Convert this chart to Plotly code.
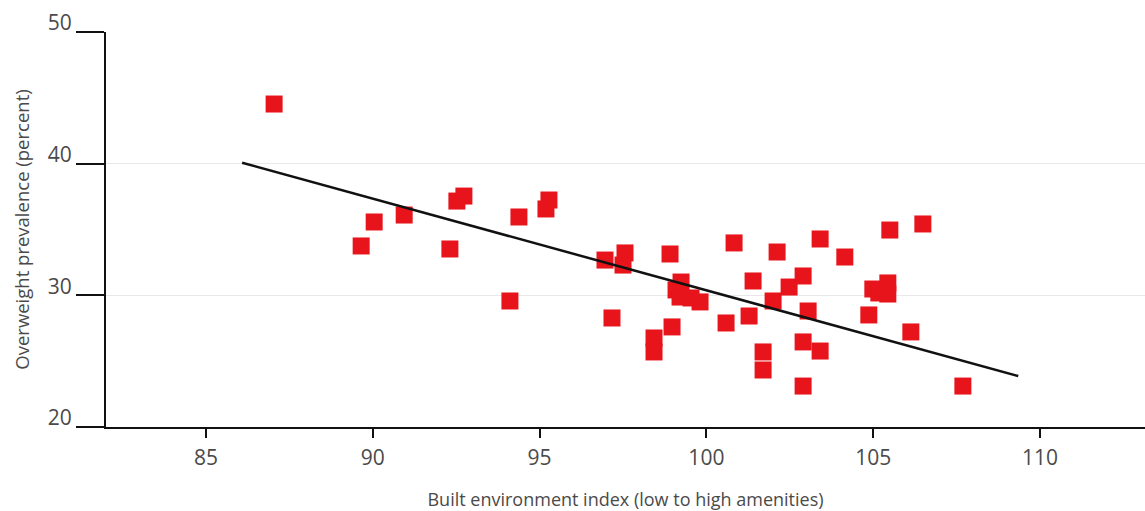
import plotly.graph_objects as go

# Built environment index (x) and overweight prevalence in percent (y)
built_index = [
    87.04, 89.65, 90.04, 90.94, 92.31, 92.52, 92.73, 94.11, 94.38, 95.19,
    95.28, 96.96, 97.56, 97.50, 97.17, 98.91, 99.24, 99.09, 99.21, 99.54,
    99.81, 98.97, 98.43, 98.43, 100.59, 100.83, 101.28, 101.40, 101.70, 101.70,
    102.12, 102.00, 102.48, 102.90, 103.05, 102.90, 103.41, 102.90, 103.41, 104.15,
    105.50, 106.49, 104.99, 105.17, 105.44, 105.44, 104.87, 106.13, 107.69,
]
overweight_pct = [
    44.53, 33.75, 35.57, 36.10, 33.52, 37.16, 37.54, 29.57, 35.95, 36.56,
    37.24, 32.68, 33.22, 32.30, 28.28, 33.14, 31.01, 30.41, 29.87, 29.80,
    29.50, 27.60, 26.76, 25.70, 27.90, 33.98, 28.43, 31.09, 25.70, 24.33,
    33.29, 29.57, 30.63, 31.47, 28.81, 26.46, 25.77, 23.11, 34.28, 32.91,
    34.96, 35.42, 30.48, 30.18, 30.94, 30.10, 28.51, 27.22, 23.11,
]

# Fitted trend line end points
trend_x = [86.08, 109.35]
trend_y = [40.07, 23.87]

x_ticks = [85, 90, 95, 100, 105, 110]
y_ticks = [20, 30, 40, 50]

TEXT = "#4a4a4a"
FONT = "Open Sans, sans-serif"

fig = go.Figure()
fig.add_trace(go.Scatter(
    x=built_index, y=overweight_pct, mode="markers",
    marker=dict(symbol="square", size=17, color="#E8141C", line=dict(width=0)),
    hoverinfo="x+y",
))
fig.add_trace(go.Scatter(
    x=trend_x, y=trend_y, mode="lines",
    line=dict(color="#111111", width=2.5),
    hoverinfo="skip",
))

fig.update_layout(
    width=1145, height=511,
    margin=dict(l=106, r=0, t=32, b=84),
    paper_bgcolor="white", plot_bgcolor="white",
    showlegend=False,
    font=dict(family=FONT, color=TEXT),
)
fig.update_xaxes(
    range=[82.0, 113.15],
    tickvals=x_ticks, ticktext=[str(v) for v in x_ticks],
    showgrid=False, zeroline=False,
    showline=True, linecolor="#111111", linewidth=2,
    ticks="outside", ticklen=9, tickwidth=2, tickcolor="#111111",
    tickfont=dict(size=21, color=TEXT, family=FONT),
    ticklabelstandoff=2,
    title=dict(text="Built environment index (low to high amenities)",
               font=dict(size=18, color=TEXT, family=FONT),
               standoff=24),
)
fig.update_yaxes(
    range=[20, 50],
    tickvals=y_ticks, ticktext=[str(v) for v in y_ticks],
    showgrid=True, gridcolor="#e8e8e8", gridwidth=1,
    zeroline=False,
    showline=True, linecolor="#111111", linewidth=2,
    ticks="outside", ticklen=28, tickwidth=2, tickcolor="#111111",
    tickfont=dict(size=21, color=TEXT, family=FONT),
    ticklabelshift=-9,
    title=dict(text="Overweight prevalence (percent)",
               font=dict(size=18.5, color=TEXT, family=FONT),
               standoff=13),
)

fig.write_html("out.html", config={"displayModeBar": False},
               post_script="document.body.style.margin='0';")
